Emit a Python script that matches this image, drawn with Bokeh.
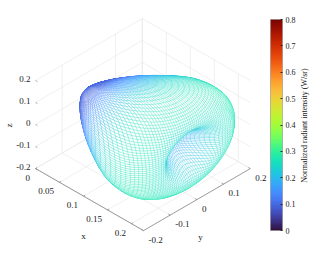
import numpy as np
from bokeh.plotting import figure
from bokeh.models import Range1d, ColumnDataSource, LinearColorMapper, ColorBar, FixedTicker
from bokeh.palettes import Turbo256
from bokeh.core.properties import value
from bokeh.embed import file_html
from bokeh.resources import INLINE

# Estimated radiant intensity by polar angle from the x axis (every 1.5 degrees)
polar_deg = [i * 1.5 for i in range(61)]
intensity = [0.172, 0.172, 0.173, 0.174, 0.175, 0.176, 0.178, 0.180, 0.183, 0.187,
             0.192, 0.198, 0.204, 0.211, 0.218, 0.225, 0.232, 0.238, 0.243, 0.247,
             0.251, 0.254, 0.257, 0.260, 0.263, 0.266, 0.268, 0.270, 0.272, 0.274,
             0.275, 0.275, 0.275, 0.272, 0.268, 0.262, 0.254, 0.245, 0.228, 0.209,
             0.190, 0.172, 0.155, 0.139, 0.124, 0.111, 0.100, 0.090, 0.081, 0.073,
             0.066, 0.060, 0.055, 0.050, 0.046, 0.042, 0.039, 0.036, 0.034, 0.032, 0.030]
color_floor = 0.095
n_mesh = 100
x_ticks = [0, 0.05, 0.1, 0.15, 0.2]
y_ticks = [-0.2, -0.1, 0, 0.1, 0.2]
z_ticks = [-0.2, -0.1, 0, 0.1, 0.2]
x_labels = ["0", "0.05", "0.1", "0.15", "0.2"]
y_labels = ["-0.2", "-0.1", "0", "0.1", "0.2"]
z_labels = ["-0.2", "-0.1", "0", "0.1", "0.2"]
cbar_ticks = [0, 0.1, 0.2, 0.3, 0.4, 0.5, 0.6, 0.7, 0.8]
x_max = 0.225
y_lim = (-0.2, 0.2)
z_lim = (-0.2, 0.2)
wall_y_lines = [-0.1, 0.1, 0.2]
FONT = "Liberation Serif"
TEXT = "#1a1a1a"


def proj(x, y, z):
    x, y, z = np.asarray(x, float), np.asarray(y, float), np.asarray(z, float)
    px = 35 + 480 * x + 267 * (y + 0.2)
    py = 168 + 276 * x - 155 * (y + 0.2) - 220 * (z + 0.2)
    return px, py


p = figure(width=316, height=251, x_range=Range1d(0, 316), y_range=Range1d(251, 0),
           toolbar_location=None, output_backend="svg", min_border=0, outline_line_color=None)
p.axis.visible = False
p.grid.visible = False
p.background_fill_color = "white"


def seg(a, b, color, w):
    xs, ys = proj(*zip(a, b))
    p.line(list(xs), list(ys), line_color=color, line_width=w)


GRID = "#e6e6e6"
# walls and floor
for y in wall_y_lines:
    seg((0, y, z_lim[0]), (0, y, z_lim[1]), GRID, 0.6)
for y in y_ticks:
    seg((0, y, z_lim[0]), (x_max, y, z_lim[0]), GRID, 0.6)
for x in x_ticks:
    seg((x, y_lim[1], z_lim[0]), (x, y_lim[1], z_lim[1]), GRID, 0.6)
    seg((x, y_lim[0], z_lim[0]), (x, y_lim[1], z_lim[0]), GRID, 0.6)
for z in z_ticks:
    seg((0, y_lim[0], z), (0, y_lim[1], z), GRID, 0.6)
    seg((0, y_lim[1], z), (x_max, y_lim[1], z), GRID, 0.6)

# surface: the mesh is a longitude/latitude grid with its poles on the z axis
lon = np.linspace(-np.pi / 2, np.pi / 2, n_mesh + 1)
lat = np.linspace(-np.pi / 2, np.pi / 2, n_mesh + 1)
LON, LAT = np.meshgrid(lon, lat, indexing="ij")
DX = np.cos(LON) * np.cos(LAT)
DY = np.sin(LON) * np.cos(LAT)
DZ = np.sin(LAT)
R = np.interp(np.degrees(np.arccos(np.clip(DX, -1, 1))), polar_deg, intensity)
X, Y, Z = R * DX, R * DY, R * DZ
PX, PY = proj(X, Y, Z)
view = np.array([58740, -105600, 148092.0])
xs, ys, cs, ds = [], [], [], []
for i in range(n_mesh):
    for j in range(n_mesh):
        idx = [(i, j), (i + 1, j), (i + 1, j + 1), (i, j + 1)]
        xs.append([round(float(PX[k]), 2) for k in idx])
        ys.append([round(float(PY[k]), 2) for k in idx])
        rm = max(np.mean([R[k] for k in idx]), color_floor)
        cs.append(Turbo256[int(np.clip(rm / 0.8 * 255, 0, 255))])
        ds.append(np.mean([X[k] for k in idx]) * view[0] + np.mean([Y[k] for k in idx]) * view[1]
                  + np.mean([Z[k] for k in idx]) * view[2])
order = np.argsort(ds)
src = ColumnDataSource(dict(xs=[xs[i] for i in order], ys=[ys[i] for i in order],
                            c=[cs[i] for i in order]))
p.patches("xs", "ys", source=src, fill_color="white", line_color="c", line_width=0.25)

# axes
AX = "#707070"
seg((0, y_lim[0], z_lim[0]), (x_max, y_lim[0], z_lim[0]), AX, 0.7)
seg((x_max, y_lim[0], z_lim[0]), (x_max, y_lim[1], z_lim[0]), AX, 0.7)


def label(px, py, s, align="center", angle=0.0, size="9px"):
    p.text([px], [py], text=[s], text_font=value(FONT), text_font_size=size,
           text_color=TEXT, text_align=align, text_baseline="middle", angle=angle)


for x, s in zip(x_ticks, x_labels):
    px, py = proj(x, y_lim[0], z_lim[0])
    seg((x, y_lim[0], z_lim[0]), (x, y_lim[0] + 0.006, z_lim[0]), AX, 0.6)
    label(px - 5.5, py + 9, s, align="right")
for y, s in zip(y_ticks, y_labels):
    px, py = proj(x_max, y, z_lim[0])
    seg((x_max, y, z_lim[0]), (x_max - 0.004, y, z_lim[0]), AX, 0.6)
    label(px + 5, py + 9, s, align="left")
for z, s in zip(z_ticks, z_labels):
    px, py = proj(0, y_lim[0], z)
    seg((0, y_lim[0], z), (0.004, y_lim[0], z), AX, 0.6)
    label(px - 5, py - 2, s, align="right")
label(83, 235, "x")
label(200, 236, "y")
label(8, 125, "z", angle=np.pi / 2)
label(304, 125, "Normalized radiant intensity (W/sr)", angle=np.pi / 2, size="8px")

mapper = LinearColorMapper(palette=Turbo256, low=0, high=0.8)
cb = ColorBar(color_mapper=mapper, width=12, height=211, location=(270, 21), padding=0,
              ticker=FixedTicker(ticks=cbar_ticks), major_label_text_font=FONT,
              major_label_text_font_size="8px", major_label_text_color=TEXT,
              major_tick_line_color="#262626", major_tick_in=2, major_tick_out=0,
              minor_tick_line_color=None, bar_line_color="#808080", bar_line_width=0.5,
              label_standoff=3, background_fill_color=None, border_line_color=None)
cb.major_label_overrides = {0: "0", 0.1: "0.1", 0.2: "0.2", 0.3: "0.3", 0.4: "0.4",
                            0.5: "0.5", 0.6: "0.6", 0.7: "0.7", 0.8: "0.8"}
p.add_layout(cb, "center")

open("out.html", "w").write(file_html(p, INLINE))
